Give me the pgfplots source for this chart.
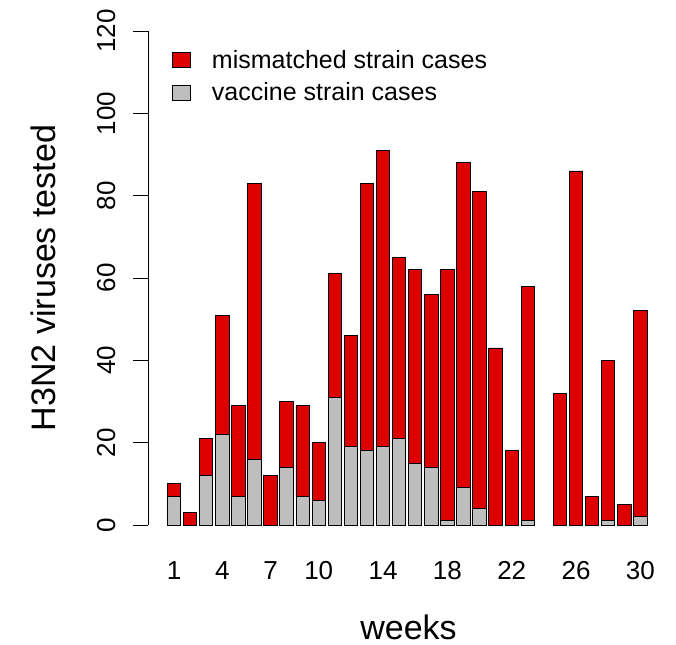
\documentclass[border=0pt]{standalone}
\usepackage{fontspec}
\setmainfont{Liberation Sans}
\usepackage{pgfplots}
\pgfplotsset{compat=1.18}

\definecolor{mism}{RGB}{221,0,0}
\definecolor{vacc}{RGB}{190,190,190}

% weekly counts: vaccine strain and mismatched strain (total - vaccine)
\pgfplotstableread{
week vacc mism
1  7  3
2  0  3
3  12 9
4  22 29
5  7  22
6  16 67
7  0  12
8  14 16
9  7  22
10 6  14
11 31 30
12 19 27
13 18 65
14 19 72
15 21 44
16 15 47
17 14 42
18 1  61
19 9  79
20 4  77
21 0  43
22 0  18
23 1  57
24 0  0
25 0  32
26 0  86
27 0  7
28 1  39
29 0  5
30 2  50
}\weeks

\begin{document}
\begin{tikzpicture}
\begin{axis}[
    scale only axis,
    width=521pt, height=494pt,
    xmin=-0.617, xmax=31.78,
    ymin=0, ymax=120,
    ybar stacked, bar width=13.4pt,
    axis x line=bottom, axis y line=left,
    axis line style={-, black, line width=0.9pt},
    x axis line style={draw=none},
    xtick={1,4,7,10,14,18,22,26,30},
    ytick={0,20,...,120},
    xtick style={draw=none},
    ytick style={black, line width=0.9pt},
    tick align=outside,
    major tick length=15pt,
    /pgf/number format/assume math mode=true,
    xticklabel style={font=\fontsize{26}{30}\selectfont, anchor=base, inner sep=0pt, yshift=-40pt},
    yticklabel style={font=\fontsize{26}{30}\selectfont, xshift=-18pt, rotate=90, anchor=base, inner sep=0pt},
    xlabel={weeks},
    ylabel={H3N2 viruses tested},
    xlabel style={font=\fontsize{34}{40}\selectfont, at={(axis description cs:0.5,-0.2328)}, anchor=base, inner sep=0pt},
    ylabel style={font=\fontsize{34}{40}\selectfont, at={(axis description cs:-0.1785,0.5)}, anchor=base, rotate=0, inner sep=0pt},
    legend style={draw=none, fill=none, at={(axis description cs:0.046,0.9636)}, anchor=north west,
        font=\fontsize{25}{30}\selectfont, inner sep=0pt, row sep=11pt,
        nodes={inner sep=1pt}},
    legend cell align=left,
    reverse legend,
    legend image code/.code={\draw[#1, draw=black, line width=0.8pt] (0pt,-7.5pt) rectangle (18pt,7.5pt);},
    clip=false,
]
\addplot[fill=vacc, draw=black, line width=0.9pt] table[x=week, y=vacc] {\weeks};
\addlegendentry{\hspace{20pt}vaccine strain cases}
\addplot[fill=mism, draw=black, line width=0.9pt] table[x=week, y=mism] {\weeks};
\addlegendentry{\hspace{20pt}mismatched strain cases}
\coordinate (bl) at (axis description cs:-0.2841,-0.2429);
\coordinate (tr) at (axis description cs:1.01344,1.06275);
\end{axis}
\pgfresetboundingbox
\path[use as bounding box] (bl) rectangle (tr);
\end{tikzpicture}
\end{document}
